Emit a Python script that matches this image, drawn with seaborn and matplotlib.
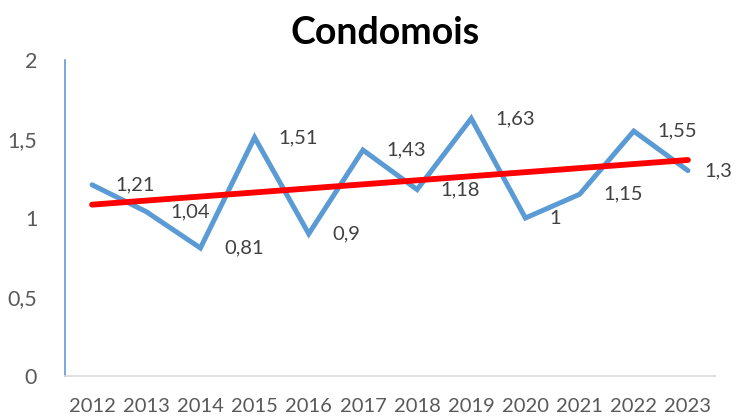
import numpy as np
import pandas as pd
import matplotlib
matplotlib.use('Agg')
import matplotlib.pyplot as plt
import seaborn as sns

# data
years = ['2012', '2013', '2014', '2015', '2016', '2017', '2018', '2019', '2020', '2021', '2022', '2023']
values = [1.21, 1.04, 0.81, 1.51, 0.90, 1.43, 1.18, 1.63, 1.00, 1.15, 1.55, 1.30]
labels = ['1,21', '1,04', '0,81', '1,51', '0,9', '1,43', '1,18', '1,63', '1', '1,15', '1,55', '1,3']
yticks = [0, 0.5, 1, 1.5, 2]
yticklabels = ['0', '0,5', '1', '1,5', '2']

df = pd.DataFrame({'x': np.arange(len(years)), 'val': values})

sns.set_style('white')
plt.rcParams['font.family'] = ['Lato', 'DejaVu Sans']

fig = plt.figure(figsize=(7.36, 4.16), dpi=100)
ax = fig.add_axes([65 / 736, 1 - 376 / 416, 650 / 736, 316 / 416])

sns.lineplot(data=df, x='x', y='val', ax=ax, color='#5B9BD5', linewidth=3.6,
             solid_joinstyle='miter', zorder=2)
sns.regplot(data=df, x='x', y='val', ax=ax, scatter=False, ci=None,
            line_kws={'color': '#FF0000', 'linewidth': 4.2, 'solid_capstyle': 'round', 'zorder': 3})

# data labels, placed right of each point (last one pulled in to stay on the canvas)
for i, (v, t) in enumerate(zip(values, labels)):
    dx = 12 if i == len(values) - 1 else 17
    ax.annotate(t, (i, v), xytext=(dx, 0), textcoords='offset points',
                ha='left', va='center', fontsize=14.5, color='#404040')

ax.set_xlim(-0.5, len(years) - 0.5)
ax.set_ylim(0, 2)
ax.set_xticks(np.arange(len(years)))
ax.set_xticklabels(years, fontsize=14.5, color='#595959')
ax.set_xticks(np.arange(len(years) + 1) - 0.5, minor=True)
ax.tick_params(axis='x', which='major', length=0, pad=16)
ax.tick_params(axis='x', which='minor', length=6, width=1, color='#D9D9D9', direction='out')
ax.set_yticks(yticks)
ax.set_yticklabels(yticklabels, fontsize=15.5, color='#595959')
ax.tick_params(axis='y', length=0, pad=20)
ax.set_xlabel('')
ax.set_ylabel('')

for s in ['top', 'right']:
    ax.spines[s].set_visible(False)
ax.spines['left'].set_color('#5B9BD5')
ax.spines['left'].set_linewidth(1.2)
ax.spines['bottom'].set_color('#D9D9D9')
ax.spines['bottom'].set_linewidth(1.2)

fig.text(385 / 736, 1 - 33 / 416, 'Condomois', ha='center', va='center',
         fontsize=27, fontweight='bold', color='black')

fig.savefig('out.png', dpi=100)
